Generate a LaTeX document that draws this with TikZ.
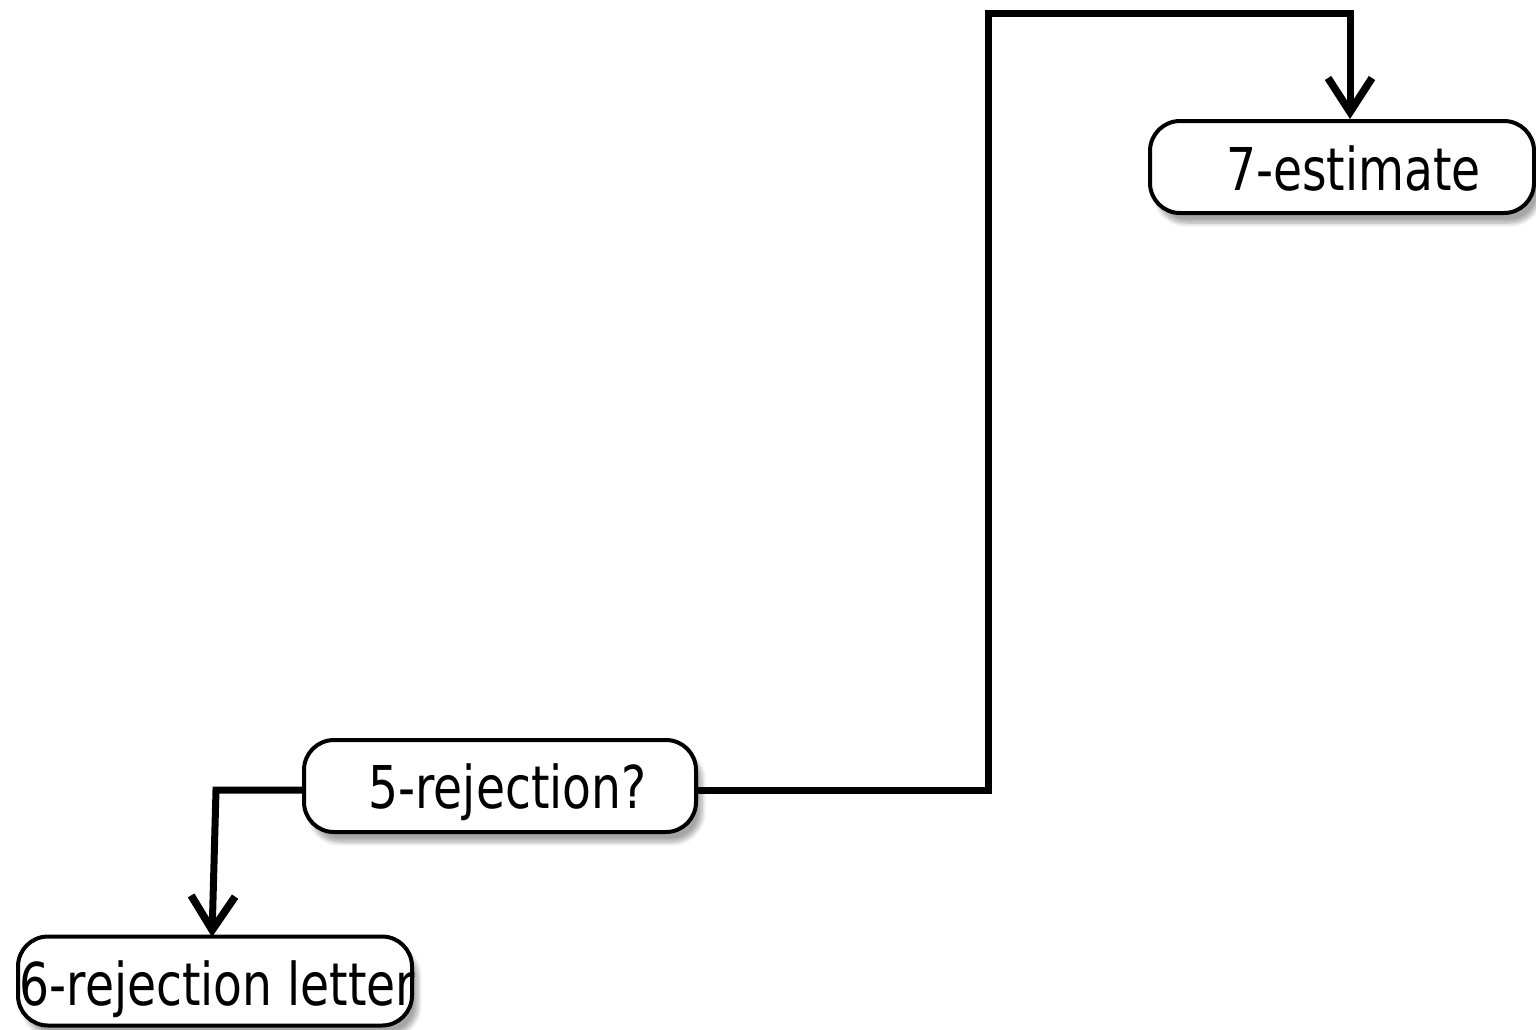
\documentclass[tikz,border=0pt]{standalone}
\usepackage{fontspec}
\setmainfont{DejaVu Sans}[FakeStretch=0.8]
\usetikzlibrary{arrows.meta,shadows.blur}
\newcommand{\boxtext}[3]{\raisebox{-#2}[0pt][0pt]{\makebox[0pt][c]{\kern#1\relax #3}}}
\begin{document}
\begin{tikzpicture}[x=0.5pt,y=-0.5pt,
  stepbox/.style={draw=black,line width=2pt,rounded corners=15pt,fill=white,
    inner sep=0pt,minimum height=46pt,
    blur shadow={shadow xshift=3pt,shadow yshift=-5pt,shadow opacity=35,shadow blur steps=8},
    font=\fontsize{29.5}{34}\selectfont},
  conn/.style={line width=3.5pt,line join=miter,-{Straight Barb[length=17pt,width=22pt,line width=3.8pt]}}]
\useasboundingbox (0,0) rectangle (1536,1029);
\node[stepbox,minimum width=192pt] (est) at (1342,167) {\boxtext{11.5pt}{11.5pt}{7-estimate}};
\node[stepbox,minimum width=196pt] (rej) at (500,786) {\boxtext{7.5pt}{11pt}{5-rejection?}};
\node[stepbox,minimum width=197pt,minimum height=44.5pt] (let) at (215,981) {\boxtext{2.5pt}{12pt}{6-rejection letter}};
\coordinate (a1) at (988,790);
\coordinate (a2) at (988,13);
\coordinate (a3) at (1350,13);
\coordinate (b1) at (216,790);
\draw[conn] (rej.east |- a1) -- (a1) -- (a2) -- (a3) -- (est.north -| a3);
\draw[conn] (rej.west |- b1) -- (b1) -- (212,937);
\end{tikzpicture}
\end{document}
